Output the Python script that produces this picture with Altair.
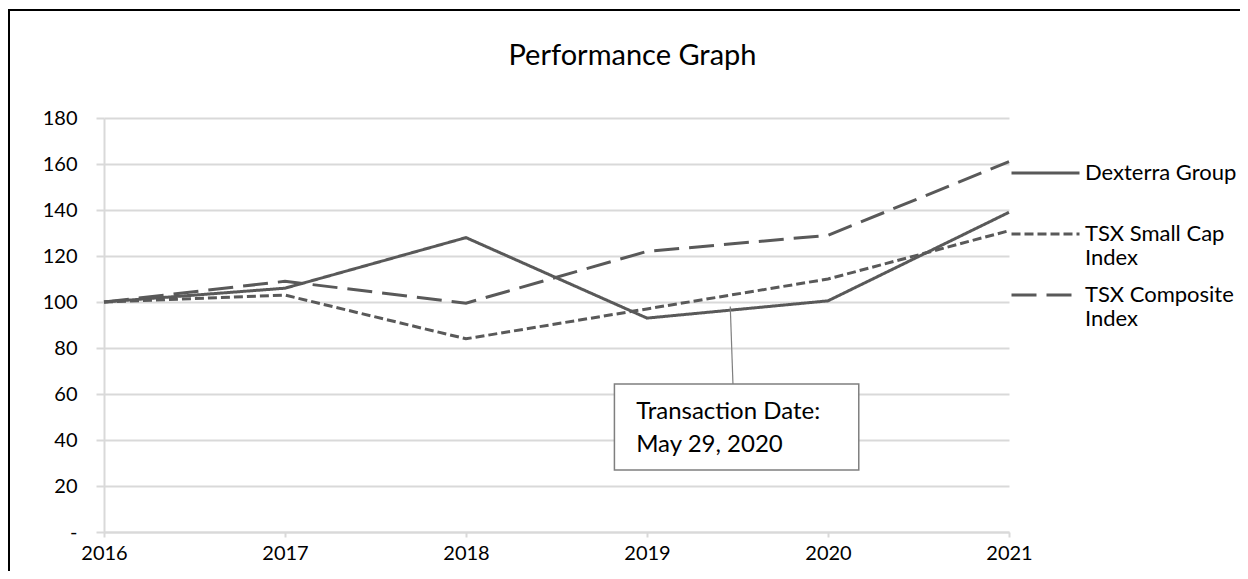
import altair as alt
import pandas as pd

years = [2016, 2017, 2018, 2019, 2020, 2021]
dexterra = [100, 106, 128, 93, 100.5, 139]
small_cap = [100, 103, 84, 97, 110, 131]
composite = [100, 109, 99.5, 122, 129, 161]
series_names = ["Dexterra Group", "TSX Small Cap Index", "TSX Composite Index"]
dash_styles = [[1, 0], [9, 4], [25, 10]]
y_ticks = [0, 20, 40, 60, 80, 100, 120, 140, 160, 180]

# callout (data units)
pointer_x = [2019.46, 2019.475]
pointer_y = [98, 64.3]
box_x = [2018.82, 2020.17]
box_y = [27, 64.3]
note_x = [2018.94]
note_y = [52.2]
note_text = ["Transaction Date:\nMay 29, 2020"]

FONT = "Lato"
LINE = "#595959"
GRID = "#d9d9d9"

rows = []
for name, vals in zip(series_names, [dexterra, small_cap, composite]):
    for yr, v in zip(years, vals):
        rows.append({"year": yr, "value": v, "series": name})
df = pd.DataFrame(rows)

x_scale = alt.Scale(domain=[2016, 2021], nice=False, zero=False)
y_scale = alt.Scale(domain=[0, 180], nice=False)

lines = alt.Chart(df).mark_line(strokeWidth=3, color=LINE).encode(
    x=alt.X("year:Q", scale=x_scale, title=None,
            axis=alt.Axis(values=years, format="d", grid=False,
                          domainColor=GRID, domainWidth=2,
                          tickColor=GRID, tickWidth=2, tickSize=5,
                          labelPadding=6, labelFlush=False)),
    y=alt.Y("value:Q", scale=y_scale, title=None,
            axis=alt.Axis(values=y_ticks, grid=True, gridColor=GRID, gridWidth=2,
                          domainColor=GRID, domainWidth=2,
                          tickColor=GRID, tickWidth=2, tickSize=8,
                          labelPadding=19,
                          labelExpr="datum.value == 0 ? '-' : datum.label")),
    strokeDash=alt.StrokeDash(
        "series:N",
        scale=alt.Scale(domain=series_names, range=dash_styles),
        sort=series_names,
        legend=alt.Legend(
            title=None, orient="none", legendX=906, legendY=29,
            symbolType="stroke", symbolSize=4624, symbolStrokeWidth=3,
            symbolStrokeColor=LINE, labelFont=FONT, labelFontSize=22,
            labelColor="#000000", labelOffset=4, padding=0, rowPadding=0,
            clipHeight=52,
            labelBaseline="middle", labelLimit=300,
            labelExpr="datum.label == 'Dexterra Group' ? [datum.label, ''] : [slice(datum.label, 0, lastindexof(datum.label, ' ')), 'Index']",
        ),
    ),
)

pointer_df = pd.DataFrame({"x": [pointer_x[0]], "y": [pointer_y[0]],
                           "x2": [pointer_x[1]], "y2": [pointer_y[1]]})
pointer = alt.Chart(pointer_df).mark_rule(color="#7f7f7f", strokeWidth=1.2).encode(
    x=alt.X("x:Q", scale=x_scale), y=alt.Y("y:Q", scale=y_scale),
    x2="x2:Q", y2="y2:Q")

box_df = pd.DataFrame({"x": [box_x[0]], "x2": [box_x[1]],
                       "y": [box_y[0]], "y2": [box_y[1]]})
box = alt.Chart(box_df).mark_rect(fill="white", stroke="#7f7f7f", strokeWidth=1.5).encode(
    x=alt.X("x:Q", scale=x_scale), x2="x2:Q",
    y=alt.Y("y:Q", scale=y_scale), y2="y2:Q")

note_df = pd.DataFrame({"x": note_x, "y": note_y, "t": note_text})
note = alt.Chart(note_df).mark_text(
    align="left", baseline="middle", font=FONT, fontSize=24,
    lineBreak="\n", lineHeight=33, color="#000000").encode(
    x=alt.X("x:Q", scale=x_scale), y=alt.Y("y:Q", scale=y_scale), text="t:N")

frame = alt.Chart(pd.DataFrame({"k": [0]})).mark_rect(
    fillOpacity=0, stroke="#000000", strokeWidth=2).encode(
    x=alt.value(-95), y=alt.value(-108), x2=alt.value(1600), y2=alt.value(900))

chart = alt.layer(lines, pointer, box, note, frame).properties(
    width=905, height=414,
    background="white",
    title=alt.TitleParams("Performance Graph", font=FONT, fontSize=29,
                          fontWeight="normal", color="#000000",
                          anchor="middle", dx=76, offset=-85,
                          baseline="alphabetic"),
    autosize=alt.AutoSizeParams(type="none"),
    padding={"left": 96, "top": 110, "right": 231, "bottom": 39},
).configure_view(stroke=None).configure_axis(
    labelFont=FONT, labelFontSize=20, labelColor="#000000"
)

chart.save("out.html", embed_options={"renderer": "svg", "actions": False})
